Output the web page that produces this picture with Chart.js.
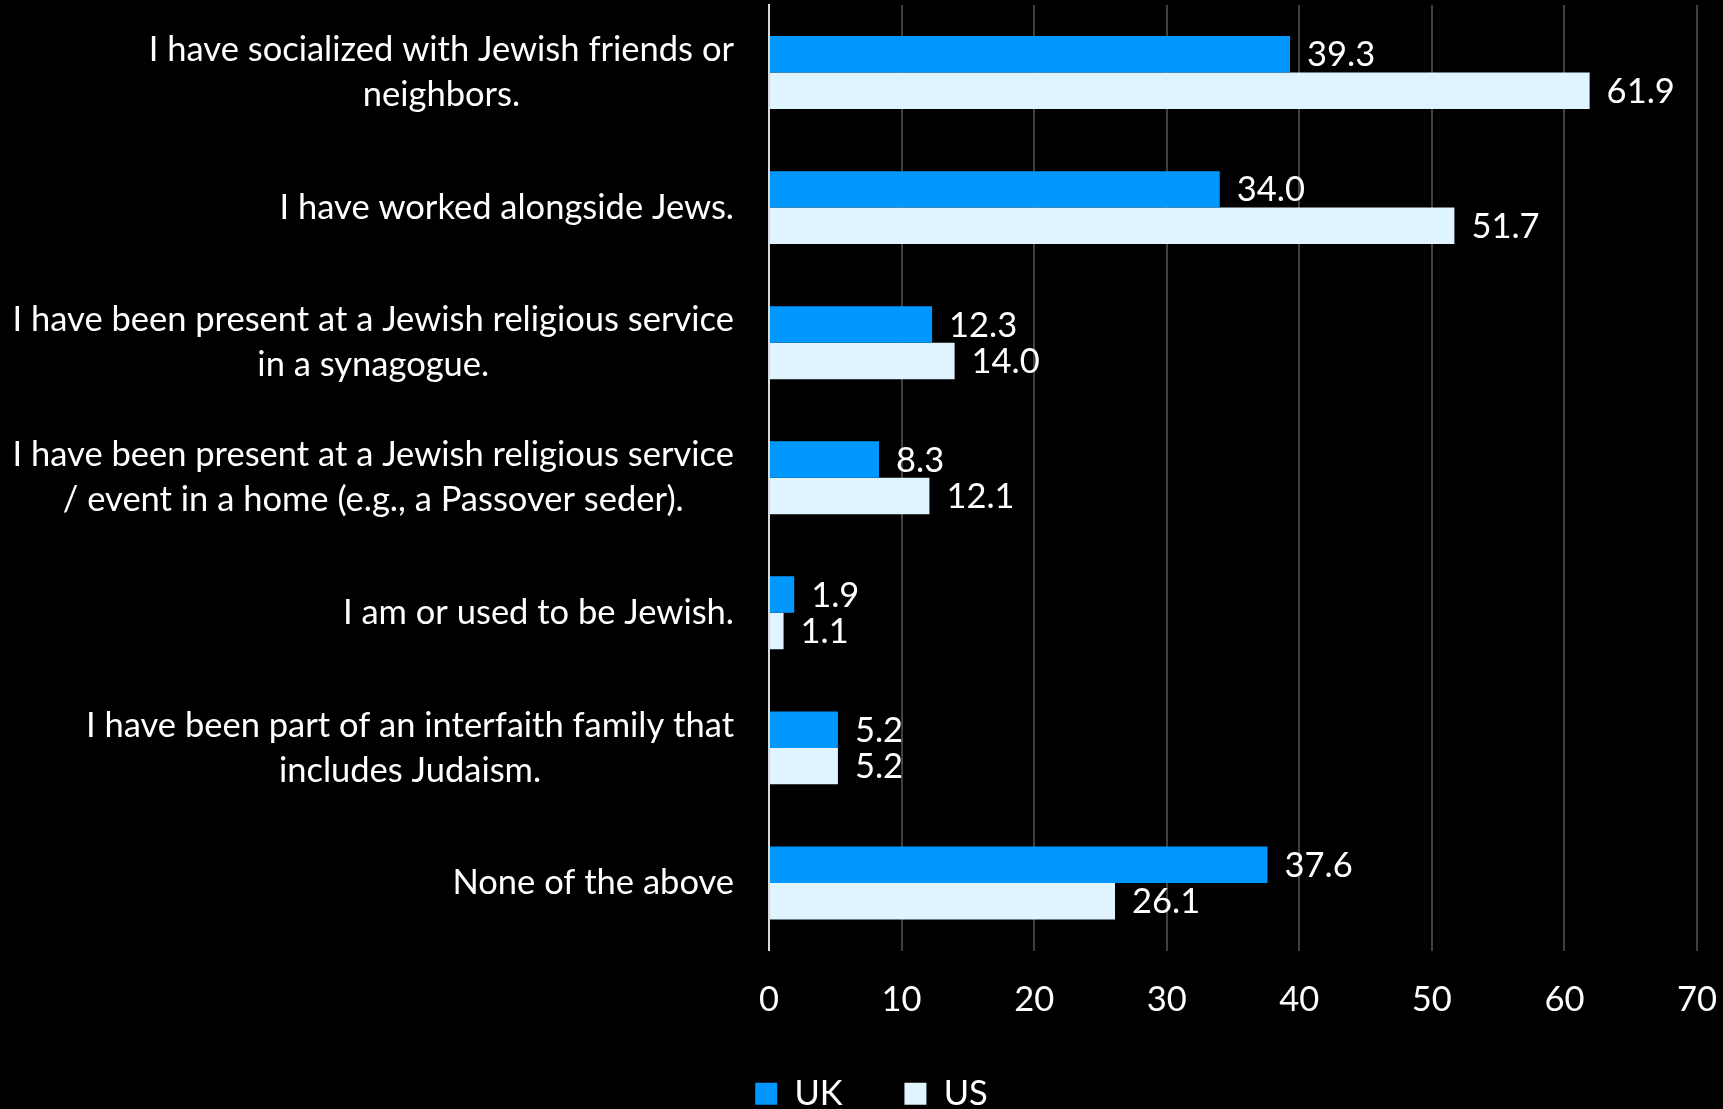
<!DOCTYPE html>
<html>
<head>
<meta charset="utf-8">
<script src="https://cdn.jsdelivr.net/npm/chart.js@4.4.0/dist/chart.umd.min.js"></script>
<style>
    html, body { margin: 0; padding: 0; background: #000; }
    #wrap { width: 1723px; height: 1109px; position: relative; }
</style>
</head>
<body>
<div id="wrap"><canvas id="chart"></canvas></div>
<script>
const categories = [
    ['I have socialized with Jewish friends or', 'neighbors.'],
    ['I have worked alongside Jews.'],
    ['I have been present at a Jewish religious service', 'in a synagogue.'],
    ['I have been present at a Jewish religious service', '/ event in a home (e.g., a Passover seder).'],
    ['I am or used to be Jewish.'],
    ['I have been part of an interfaith family that', 'includes Judaism.'],
    ['None of the above']
];
const ukValues = [39.3, 34.0, 12.3, 8.3, 1.9, 5.2, 37.6];
const usValues = [61.9, 51.7, 14.0, 12.1, 1.1, 5.2, 26.1];
const seriesNames = ['UK', 'US'];

const FONT = "Lato, sans-serif";
const FONT_SIZE = 34.5;

// category labels: each block right-aligned to the axis, lines centred inside the block
const categoryLabels = {
    id: 'categoryLabels',
    afterDraw(chart) {
        const ctx = chart.ctx;
        const yScale = chart.scales.y;
        const right = chart.chartArea.left - 35;
        const lineH = 45;
        ctx.save();
        ctx.font = `${FONT_SIZE}px ${FONT}`;
        ctx.fillStyle = '#ffffff';
        ctx.textAlign = 'center';
        ctx.textBaseline = 'middle';
        categories.forEach((lines, i) => {
            const y = yScale.getPixelForTick(i);
            const blockW = Math.max(...lines.map(l => ctx.measureText(l).width));
            const cx = right - blockW / 2;
            const y0 = y - (lines.length - 1) * lineH / 2;
            lines.forEach((line, j) => ctx.fillText(line, cx, y0 + j * lineH));
        });
        ctx.restore();
    }
};

// value labels at the end of each bar
const valueLabels = {
    id: 'valueLabels',
    afterDatasetsDraw(chart) {
        const ctx = chart.ctx;
        ctx.save();
        ctx.font = `${FONT_SIZE}px ${FONT}`;
        ctx.fillStyle = '#ffffff';
        ctx.textAlign = 'left';
        ctx.textBaseline = 'middle';
        chart.data.datasets.forEach((ds, di) => {
            chart.getDatasetMeta(di).data.forEach((bar, i) => {
                ctx.fillText(ds.data[i].toFixed(1), bar.x + 17, bar.y + 1);
            });
        });
        ctx.restore();
    }
};

new Chart(document.getElementById('chart'), {
    type: 'bar',
    data: {
        labels: categories,
        datasets: [
            {
                label: seriesNames[0],
                data: ukValues,
                backgroundColor: '#0098ff',
                borderWidth: 0,
                categoryPercentage: 0.54,
                barPercentage: 1.0
            },
            {
                label: seriesNames[1],
                data: usValues,
                backgroundColor: '#e0f4ff',
                borderWidth: 0,
                categoryPercentage: 0.54,
                barPercentage: 1.0
            }
        ]
    },
    options: {
        indexAxis: 'y',
        responsive: true,
        maintainAspectRatio: false,
        animation: false,
        layout: { padding: { top: 5, right: 26, left: 46, bottom: -12 } },
        plugins: {
            tooltip: { enabled: false },
            legend: {
                display: true,
                position: 'bottom',
                labels: {
                    color: '#ffffff',
                    font: { family: FONT, size: FONT_SIZE },
                    boxWidth: 22,
                    boxHeight: 22,
                    padding: 10,
                    // wider gap between the two entries, as in the original legend
                    generateLabels(chart) {
                        const items = Chart.defaults.plugins.legend.labels.generateLabels(chart);
                        items.forEach((it, i) => {
                            if (i < items.length - 1) it.text = it.text + '\u2003\u2003';
                        });
                        return items;
                    }
                }
            }
        },
        scales: {
            x: {
                min: 0,
                max: 70,
                ticks: {
                    stepSize: 10,
                    color: '#ffffff',
                    font: { family: FONT, size: FONT_SIZE },
                    padding: 29
                },
                grid: { color: '#404040', lineWidth: 2, drawTicks: false },
                border: { display: false },
                afterFit(scale) {
                    scale.height = 116;
                    // no extra side padding for the end tick labels
                    scale.paddingLeft = 0;
                    scale.paddingRight = 0;
                }
            },
            y: {
                ticks: { display: false },
                grid: { display: false },
                border: { color: '#d9d9d9', width: 2 },
                afterFit(scale) { scale.width = 723; }
            }
        }
    },
    plugins: [categoryLabels, valueLabels]
});
</script>
</body>
</html>
